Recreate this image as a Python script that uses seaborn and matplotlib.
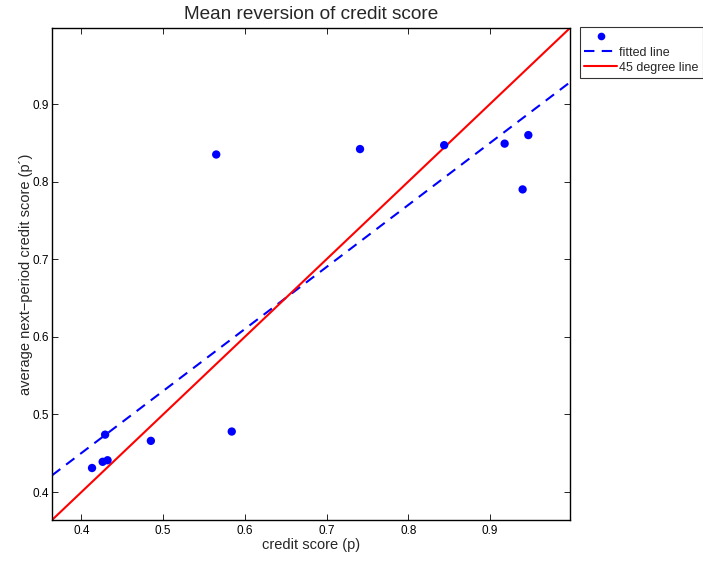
import numpy as np
import pandas as pd
import matplotlib
matplotlib.use("Agg")
import matplotlib.pyplot as plt
from matplotlib.lines import Line2D
import seaborn as sns

# credit score this period (p) and average next-period score (p')
credit_score = [0.413, 0.426, 0.432, 0.429, 0.485, 0.584, 0.565, 0.741, 0.844, 0.918, 0.947, 0.940]
next_score = [0.431, 0.439, 0.441, 0.474, 0.466, 0.478, 0.835, 0.842, 0.847, 0.849, 0.860, 0.790]

# fitted regression line y = fit_intercept + fit_slope * x
fit_intercept = 0.1307
fit_slope = 0.799

axis_limits = [0.364, 0.998]
x_ticks = [0.4, 0.5, 0.6, 0.7, 0.8, 0.9]
y_ticks = [0.4, 0.5, 0.6, 0.7, 0.8, 0.9]

sns.set_style("white")
plt.rcParams["font.family"] = ["Liberation Sans", "DejaVu Sans"]

fig = plt.figure(figsize=(7.03, 5.62), dpi=100)
ax = fig.add_axes([52 / 703, 42 / 562, 518 / 703, 492 / 562])

pts = pd.DataFrame({"p": credit_score, "p_next": next_score})
grid = pd.DataFrame({"x": axis_limits})
grid["fit"] = fit_intercept + fit_slope * grid["x"]
grid["diag"] = grid["x"]

sns.scatterplot(data=pts, x="p", y="p_next", ax=ax, color="#0000ff",
                s=36, edgecolor="none", zorder=3)
sns.lineplot(data=grid, x="x", y="fit", ax=ax, color="#0000ff", lw=1.5,
             zorder=2)
ax.lines[-1].set_dashes([5, 3.5])
sns.lineplot(data=grid, x="x", y="diag", ax=ax, color="#ff0000", lw=1.5,
             zorder=2)

ax.set_xlim(axis_limits)
ax.set_ylim(axis_limits)
ax.set_xticks(x_ticks)
ax.set_yticks(y_ticks)
ax.set_xticklabels([f"{t:.1f}" for t in x_ticks])
ax.set_yticklabels([f"{t:.1f}" for t in y_ticks])
ax.tick_params(direction="in", length=4, width=0.6, labelsize=8.5,
               top=True, right=True, bottom=True, left=True, colors="black",
               pad=3.5)
ax.tick_params(axis="y", pad=2.5)
for s in ax.spines.values():
    s.set_visible(True)
    s.set_color("black")
    s.set_linewidth(1.0)

ax.set_xlabel("credit score (p)", fontsize=10.5, labelpad=1)
ax.set_ylabel("average next\u2212period credit score (p\u00b4)", fontsize=10.5,
              labelpad=-1.0)
ax.set_title("Mean reversion of credit score", fontsize=13.7, pad=6.5)

handles = [
    Line2D([], [], marker="o", linestyle="none", color="#0000ff",
           markersize=5.5, markeredgewidth=0),
    Line2D([], [], color="#0000ff", lw=1.5, dashes=[5, 3.5]),
    Line2D([], [], color="#ff0000", lw=1.5),
]
leg = fig.legend(handles, ["", "fitted line", "45 degree line"],
                 loc="upper left", bbox_to_anchor=(580 / 703, 1 - 27 / 562),
                 fontsize=9, frameon=True, fancybox=False, handlelength=2.6,
                 handletextpad=0.15, borderpad=0.35, labelspacing=0.25,
                 borderaxespad=0)
leg.get_frame().set_edgecolor("black")
leg.get_frame().set_linewidth(0.8)

fig.savefig("out.png", dpi=100)
